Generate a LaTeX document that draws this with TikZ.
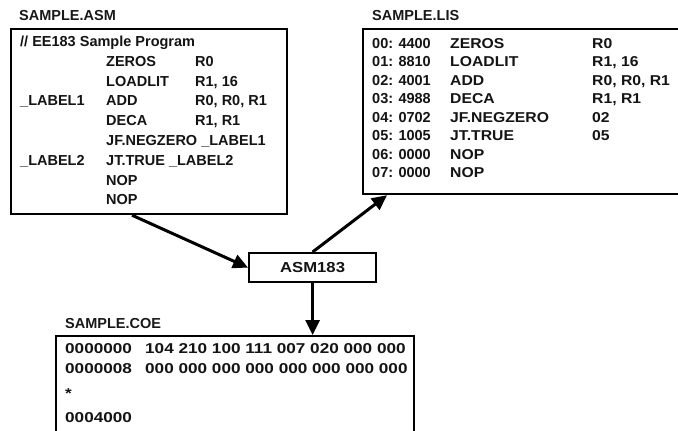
\documentclass[tikz,border=0pt]{standalone}
\usepackage{fontspec}
\setmainfont{Liberation Sans}
\newfontfamily\lisfont{Liberation Sans}[FakeStretch=1.1]
\newfontfamily\toolfont{Liberation Sans}[FakeStretch=1.15]
\newfontfamily\coefont{Liberation Sans}[FakeStretch=1.2]
\usetikzlibrary{arrows.meta,calc}
\begin{document}
\begin{tikzpicture}[x=1pt,y=-1pt,
  box/.style={draw=black,line width=2.2pt,anchor=north west,inner sep=0pt},
  txt/.style={anchor=base west,inner sep=0pt,font=\fontsize{14.5}{16}\selectfont\bfseries,text=black!92},
  ltxt/.style={anchor=base west,inner sep=0pt,font=\fontsize{14.3}{16}\selectfont\lisfont\bfseries,text=black!92},
  ttl/.style={anchor=base west,inner sep=0pt,font=\fontsize{14.5}{16}\selectfont\bfseries,text=black!90},
  wtxt/.style={anchor=base west,inner sep=0pt,font=\fontsize{14.3}{16}\selectfont\coefont\bfseries,text=black!92},
  flow/.style={line width=3pt,-{Triangle[length=15pt,width=14pt]}}]
\useasboundingbox (0,0) rectangle (678,431);
\fill[white] (0,0) rectangle (678,431);

% ASM box
\node[box,minimum width=276pt,minimum height=185pt] (asm) at (10,28) {};
\node[ttl] (asmt) at (19,20) {SAMPLE.ASM};
\node[txt] (a0) at (20,46.5) {// EE183 Sample Program};
\node[txt] (a1b) at (106,66.3) {ZEROS};
\node[txt] (a1c) at (195,66.3) {R0};
\node[txt] (a2b) at (106,86.1) {LOADLIT};
\node[txt] (a2c) at (195,86.1) {R1, 16};
\node[txt] (a3a) at (20,105.9) {\_LABEL1};
\node[txt] (a3b) at (106,105.9) {ADD};
\node[txt] (a3c) at (195,105.9) {R0, R0, R1};
\node[txt] (a4b) at (106,125.7) {DECA};
\node[txt] (a4c) at (195,125.7) {R1, R1};
\node[txt] (a5b) at (106,145.5) {JF.NEGZERO \_LABEL1};
\node[txt] (a6a) at (20,165.3) {\_LABEL2};
\node[txt] (a6b) at (106,165.3) {JT.TRUE \_LABEL2};
\node[txt] (a7b) at (106,185.1) {NOP};
\node[txt] (a8b) at (106,204.9) {NOP};

% LIS box
\node[box,minimum width=320pt,minimum height=165pt] (lis) at (362,28) {};
\node[ttl] (list) at (372,20) {SAMPLE.LIS};
\foreach \i/\a/\m/\o in {0/00: 4400/ZEROS/R0, 1/01: 8810/LOADLIT/{R1, 16}, 2/02: 4001/ADD/{R0, R0, R1},
  3/03: 4988/DECA/{R1, R1}, 4/04: 0702/JF.NEGZERO/02, 5/05: 1005/JT.TRUE/05, 6/06: 0000/NOP/, 7/07: 0000/NOP/} {
  \node[txt] (la\i) at (372,48+18.57*\i) {\a};
  \node[ltxt] (lm\i) at (450,48+18.57*\i) {\m};
  \node[ltxt] (lo\i) at (592,48+18.57*\i) {\o};
}

% ASM183 box
\node[box,minimum width=127pt,minimum height=29pt] (tool) at (248,252) {};
\node[anchor=center,inner sep=0pt,font=\fontsize{14.5}{16}\selectfont\toolfont\bfseries,text=black!92] (toolt) at (tool.center) {ASM183};

% COE box
\node[box,minimum width=358pt,minimum height=120pt] (coe) at (55,335) {};
\node[ttl] (coet) at (65,328) {SAMPLE.COE};
\node[wtxt] (c1a) at (65,353) {0000000};
\node[wtxt] (c1b) at (145,353) {104 210 100 111 007 020 000 000};
\node[wtxt] (c2a) at (65,373) {0000008};
\node[wtxt] (c2b) at (145,373) {000 000 000 000 000 000 000 000};
\node[wtxt] (c3) at (65,398) {*};
\node[wtxt] (c4) at (65,422) {0004000};

% connectors
\draw[flow] ($(asm.south west)+(122,0)$) -- (tool.west);
\draw[flow] (tool.north) -- ($(lis.south west)+(25,0)$);
\draw[flow] (tool.south) -- (tool.south |- coe.north);
\end{tikzpicture}
\end{document}
